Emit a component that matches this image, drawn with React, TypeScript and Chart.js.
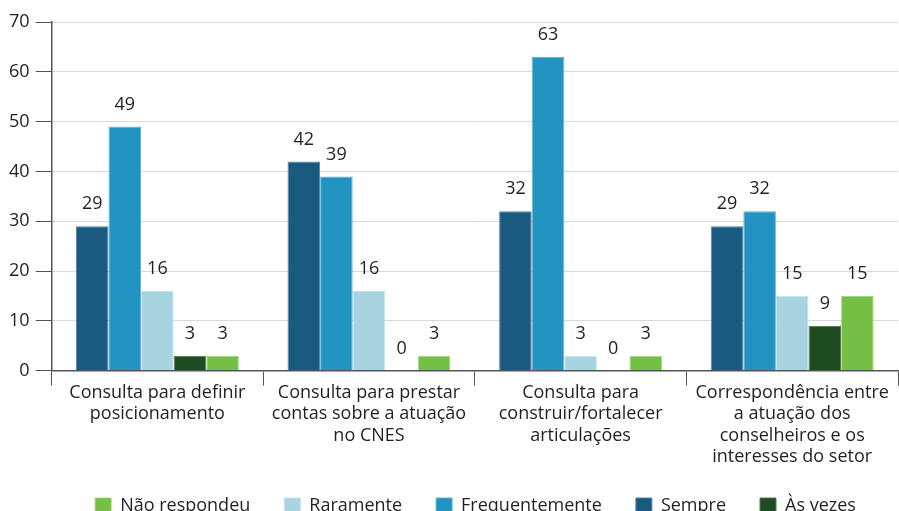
import React, { useEffect, useRef } from "react";
import { Chart, registerables } from "chart.js";

Chart.register(...registerables);

const categories: string[][] = [
  ["Consulta para definir", "posicionamento"],
  ["Consulta para prestar", "contas sobre a atuação", "no CNES"],
  ["Consulta para", "construir/fortalecer", "articulações"],
  ["Correspondência entre", "a atuação dos", "conselheiros e os", "interesses do setor"],
];

const sempre = [29, 42, 32, 29];
const frequentemente = [49, 39, 63, 32];
const raramente = [16, 16, 3, 15];
const asVezes = [3, 0, 0, 9];
const naoRespondeu = [3, 3, 3, 15];

const legendOrder = ["Não respondeu", "Raramente", "Frequentemente", "Sempre", "Às vezes"];
const yTicks = [0, 10, 20, 30, 40, 50, 60, 70];

const FONT = "'Open Sans', 'Noto Sans', sans-serif";
const TEXT = "#231f20";
const CANVAS_H = 525;

const valueLabels = {
  id: "valueLabels",
  afterDatasetsDraw(chart: any) {
    const ctx = chart.ctx;
    ctx.save();
    ctx.font = `18px ${FONT}`;
    ctx.fillStyle = TEXT;
    ctx.textAlign = "center";
    ctx.textBaseline = "middle";
    chart.data.datasets.forEach((ds: any, di: number) => {
      const meta = chart.getDatasetMeta(di);
      meta.data.forEach((bar: any, i: number) => {
        ctx.fillText(String(ds.data[i]), bar.x, bar.y - 22);
      });
    });
    ctx.restore();
  },
};

const layoutTweaks = {
  id: "layoutTweaks",
  afterLayout(chart: any) {
    if (chart.legend) chart.legend.left += 50;
    if (chart.scales.x) chart.scales.x.bottom += 20;
  },
};

export default function App() {
  const ref = useRef<HTMLCanvasElement>(null);
  useEffect(() => {
    if (!ref.current) return;
    const chart = new Chart(ref.current, {
      type: "bar",
      data: {
        labels: categories as any,
        datasets: [
          { label: "Sempre", data: sempre, backgroundColor: "#1a5a80", borderColor: "#4f86a6" },
          { label: "Frequentemente", data: frequentemente, backgroundColor: "#2394c1", borderColor: "#5bb3d6" },
          { label: "Raramente", data: raramente, backgroundColor: "#a8d3e0", borderColor: "#c6e4ec" },
          { label: "Às vezes", data: asVezes, backgroundColor: "#1e4b22", borderColor: "#4c7a4f" },
          { label: "Não respondeu", data: naoRespondeu, backgroundColor: "#74bf44", borderColor: "#a3d67f" },
        ].map((d) => ({ ...d, borderWidth: 1, categoryPercentage: 0.77, barPercentage: 1 })),
      },
      options: {
        responsive: false,
        animation: false,
        layout: { padding: { top: 22, right: 1, left: 3, bottom: 0 } },
        plugins: {
          tooltip: { enabled: false },
          legend: {
            position: "bottom",
            labels: {
              boxWidth: 16,
              boxHeight: 16,
              padding: 34,
              color: TEXT,
              font: { family: FONT, size: 18 },
              sort: (a: any, b: any) => legendOrder.indexOf(a.text) - legendOrder.indexOf(b.text),
            },
          },
        },
        scales: {
          x: {
            offset: true,
            afterFit: (scale: any) => {
              scale.height -= 1;
            },
            border: { color: "#555", width: 1.5 },
            grid: {
              offset: true,
              drawOnChartArea: false,
              drawTicks: true,
              tickLength: 15,
              color: "#555",
            },
            ticks: {
              maxRotation: 0,
              autoSkip: false,
              color: TEXT,
              font: { family: FONT, size: 18 },
              padding: -4,
            },
          },
          y: {
            min: 0,
            max: 70,
            afterBuildTicks: (axis: any) => {
              axis.ticks = yTicks.map((v) => ({ value: v }));
            },
            border: { color: "#555", width: 1.5 },
            grid: {
              color: "#d9d9d9",
              tickColor: "#555",
              tickLength: 16,
            },
            ticks: {
              color: TEXT,
              font: { family: FONT, size: 18 },
              padding: 6,
            },
          },
        },
      },
      plugins: [valueLabels, layoutTweaks],
    });
    return () => chart.destroy();
  }, []);
  return (
    <div style={{ position: "fixed", left: 0, top: 0, width: 899, height: CANVAS_H, background: "#fff" }}>
      <canvas ref={ref} width={899} height={CANVAS_H} />
    </div>
  );
}
